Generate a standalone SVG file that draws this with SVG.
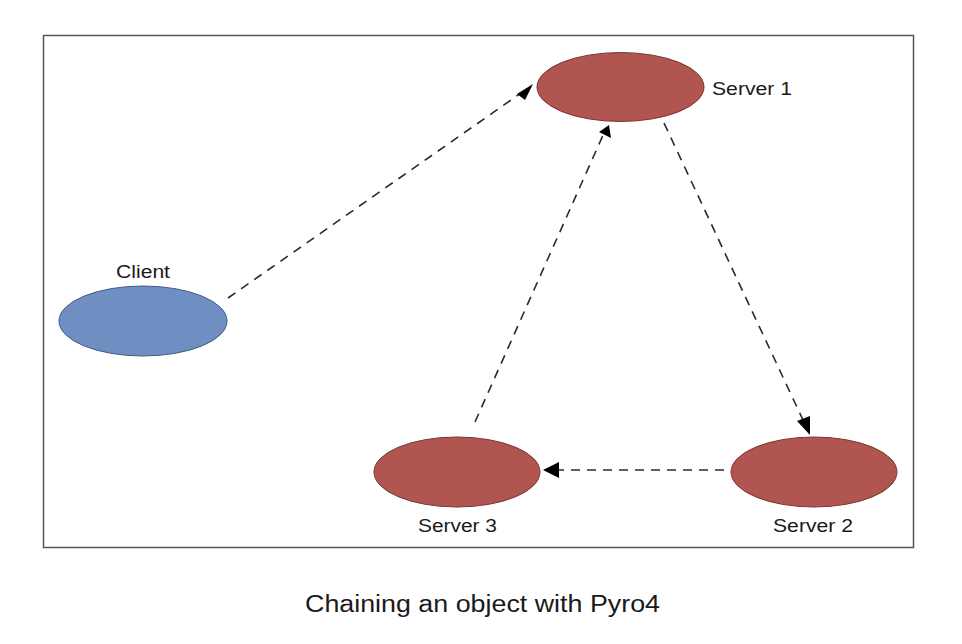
<svg xmlns="http://www.w3.org/2000/svg" width="962" height="644" viewBox="0 0 962 644">
<style>
.server{fill:#b05550;stroke:#7a3330;stroke-width:1}
.client{fill:#6f8fc2;stroke:#3f5a85;stroke-width:1}
.lbl{font-family:"Liberation Sans",Arial,sans-serif;font-size:18px;fill:#1a1a1a}
.edge{stroke:#2a2a2a;stroke-width:1.6;stroke-dasharray:9,7;fill:none}
.head{fill:#000}
</style>
<rect x="0" y="0" width="962" height="644" fill="#fff"/>
<rect x="43.5" y="35.5" width="870" height="512" fill="none" stroke="#555" stroke-width="1.5"/>
<g id="edges">
<line class="edge" x1="228" y1="298" x2="521" y2="93"/>
<path class="head" d="M517,94 L533,84 L525,100 z"/>
<line class="edge" x1="475" y1="422" x2="604" y2="133"/>
<path class="head" d="M599,132 L609,125 L611,138 z"/>
<line class="edge" x1="664" y1="123" x2="803" y2="420"/>
<path class="head" d="M797,421 L810,435 L810,416 z"/>
<line class="edge" x1="724" y1="470" x2="558" y2="470"/>
<path class="head" d="M559,462 L543,470 L559,478 z"/>
</g>
<g id="server1">
<ellipse class="server" cx="620.5" cy="87" rx="83.5" ry="34.5"/>
<text class="lbl" x="712" y="95" textLength="80" lengthAdjust="spacingAndGlyphs">Server 1</text>
</g>
<g id="client">
<ellipse class="client" cx="143" cy="321" rx="84" ry="35"/>
<text class="lbl" x="116" y="278" textLength="54" lengthAdjust="spacingAndGlyphs">Client</text>
</g>
<g id="server3">
<ellipse class="server" cx="457" cy="472" rx="83" ry="35"/>
<text class="lbl" x="418" y="532" textLength="79" lengthAdjust="spacingAndGlyphs">Server 3</text>
</g>
<g id="server2">
<ellipse class="server" cx="814" cy="472" rx="83" ry="35"/>
<text class="lbl" x="773" y="532" textLength="80" lengthAdjust="spacingAndGlyphs">Server 2</text>
</g>
<text x="305" y="612" textLength="355" lengthAdjust="spacingAndGlyphs" font-family="'Liberation Sans',Arial,sans-serif" font-size="23" fill="#1a1a1a">Chaining an object with Pyro4</text>
</svg>
